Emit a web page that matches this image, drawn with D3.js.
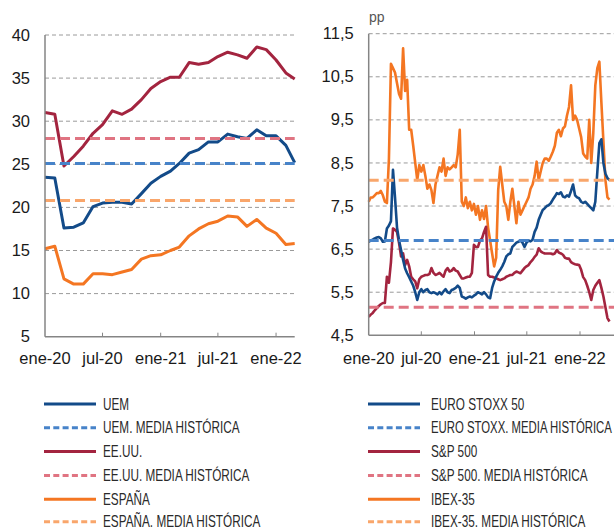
<!DOCTYPE html>
<html><head><meta charset="utf-8">
<script src="https://cdn.jsdelivr.net/npm/d3@7"></script>
<style>
html,body{margin:0;padding:0;background:#fff;}
svg{display:block;}
</style></head>
<body>
<script>
// ---------- DATA ----------
const monthNames = ["ene","feb","mar","abr","may","jun","jul","ago","sep","oct","nov","dic"];
const xTickDates = ["2020-01-01","2020-07-01","2021-01-01","2021-07-01","2022-01-01"];
const leftYTicks = [5,10,15,20,25,30,35,40];
const rightYTicks = [4.5,5.5,6.5,7.5,8.5,9.5,10.5,11.5];

// Left chart: monthly, ene-20 .. mar-22
const leftStart = "2020-01-01";
const uem    = [23.5,23.4,17.6,17.7,18.2,20.1,20.5,20.6,20.6,20.4,21.6,22.8,23.6,24.2,25.1,26.3,26.7,27.6,27.6,28.5,28.2,28.0,29.0,28.3,28.3,27.2,25.2];
const eeuu   = [31.0,30.8,24.8,25.9,27.1,28.6,29.6,31.2,30.8,31.4,32.5,33.8,34.6,35.1,35.1,36.8,36.6,36.8,37.5,38.0,37.7,37.3,38.6,38.3,37.1,35.6,34.9];
const espana = [15.2,15.5,11.7,11.1,11.1,12.3,12.3,12.2,12.5,12.8,14.0,14.4,14.5,15.0,15.4,16.7,17.5,18.1,18.4,19.0,18.9,17.8,18.6,17.6,17.0,15.7,15.8];
const uemMedia = 25.1, eeuuMedia = 28.0, espanaMedia = 20.8;

// Right chart: weekly, from 2020-01-01
const rightStart = "2020-01-01";
const ibex = [7.6,7.7,7.7,7.75,7.8,7.8,7.85,7.75,7.6,7.57,8.6,10.8,10.7,10.6,10.35,10.1,9.99,11.16,10.17,10.43,
  9.27,9.27,8.9,8.5,8.1,8.45,8.3,8.45,8.2,7.9,8.0,7.87,7.57,8.0,8.2,8.4,8.3,8.6,8.2,8.4,
  8.35,8.4,8.45,8.4,8.7,9.27,7.6,7.5,7.7,7.45,7.6,7.4,7.55,7.3,7.5,7.18,7.4,7.2,7.5,7.0,
  6.7,6.4,6.1,6.3,7.87,8.41,8.0,7.6,7.5,7.18,7.6,7.9,7.5,7.1,7.6,7.3,7.4,7.5,7.6,7.7,
  7.9,8.0,8.2,8.53,8.1,8.3,8.5,8.6,8.6,8.55,8.65,8.76,8.9,9.2,9.27,9.12,9.3,9.35,9.6,9.8,
  10.3,9.5,9.6,9.5,9.3,9.1,8.72,8.65,8.6,9.5,8.5,9.2,10.3,10.7,10.85,9.9,9.0,8.1,7.7,7.65];
const euroStoxx = [6.67,6.7,6.72,6.75,6.77,6.78,6.75,6.67,6.68,6.98,7.05,7.15,8.34,7.7,7.0,6.7,6.48,6.25,6.05,5.94,
  5.85,5.75,5.65,5.5,5.32,5.5,5.57,5.5,5.55,5.57,5.5,5.48,5.5,5.48,5.45,5.5,5.45,5.52,5.57,5.5,
  5.48,5.55,5.57,5.6,5.65,5.6,5.4,5.38,5.35,5.38,5.4,5.38,5.42,5.45,5.5,5.48,5.45,5.5,5.45,5.38,
  5.36,5.6,5.75,5.86,5.95,6.02,6.1,6.2,6.33,6.38,6.4,6.55,6.6,6.65,6.67,6.7,6.65,6.55,6.65,6.7,
  6.68,6.72,6.9,7.0,7.18,7.3,7.41,7.45,7.5,7.52,7.57,7.65,7.72,7.8,7.78,7.82,7.72,7.7,7.75,7.72,
  7.85,8.0,7.75,7.7,7.68,7.6,7.57,7.6,7.55,7.5,7.45,7.4,7.6,8.3,8.96,9.05,8.5,8.25,8.15,8.1];
const sp500 = [4.93,4.98,5.02,5.08,5.13,5.18,5.22,5.25,5.25,5.86,5.72,6.2,6.98,6.95,6.9,6.64,6.33,6.4,6.13,6.25,
  6.1,5.86,5.8,5.75,5.59,5.8,5.86,5.88,5.9,5.9,5.92,6.06,5.95,5.9,5.92,5.95,5.9,5.86,6.0,6.06,
  5.98,6.0,6.06,6.0,5.98,5.9,5.82,5.82,5.84,5.86,5.86,5.95,6.6,6.55,6.55,6.7,6.75,6.9,7.02,5.9,
  5.86,5.86,5.84,5.82,5.8,5.78,5.8,5.82,5.86,5.88,5.9,5.9,5.95,5.98,5.96,5.94,6.0,6.06,6.1,6.13,
  6.2,6.25,6.32,6.37,6.52,6.45,6.42,6.4,6.4,6.4,6.4,6.38,6.4,6.48,6.42,6.4,6.37,6.3,6.28,6.28,
  6.2,6.17,6.15,6.14,6.13,6.02,5.85,5.78,5.65,5.5,5.32,5.55,5.65,5.72,5.78,5.6,5.4,5.15,4.9,4.82];
const euroStoxxMedia = 6.7, sp500Media = 5.15, ibexMedia = 8.1;

const legendLeft  = ["UEM","UEM. MEDIA HISTÓRICA","EE.UU.","EE.UU. MEDIA HISTÓRICA","ESPAÑA","ESPAÑA. MEDIA HISTÓRICA"];
const legendRight = ["EURO STOXX 50","EURO STOXX. MEDIA HISTÓRICA","S&P 500","S&P 500. MEDIA HISTÓRICA","IBEX-35","IBEX-35. MEDIA HISTÓRICA"];

// ---------- STYLE ----------
const C = {
  blue:"#134b89", blueAvg:"#4783c9",
  red:"#a3243f", redAvg:"#e07482",
  orange:"#f47622", orangeAvg:"#f9a66b",
  grid:"#9a9a9a", axis:"#858585", text:"#1a1a1a"
};
const FONT = "'Liberation Sans', Arial, Helvetica, sans-serif";

const W = 614, H = 530;
const svg = d3.select("body").append("svg").attr("width", W).attr("height", H)
  .style("font-family", FONT);

const parse = d3.timeParse("%Y-%m-%d");
const fmtComma = d3.formatLocale({decimal:",", thousands:".", grouping:[3], currency:["","€"]}).format(".1f");
const xLabel = d => monthNames[d.getMonth()] + "-" + String(d.getFullYear()).slice(2);

function drawPanel(cfg) {
  const g = svg.append("g");
  const x = d3.scaleTime().domain(cfg.xDomain).range(cfg.xRange);
  const y = d3.scaleLinear().domain(cfg.yDomain).range(cfg.yRange);
  const [x0, x1] = [cfg.xRange[0], cfg.plotRight];

  // gridlines
  g.append("g").selectAll("line").data(cfg.yTicks.filter(v => v !== cfg.yDomain[0])).join("line")
    .attr("x1", x0).attr("x2", x1).attr("y1", d => y(d)).attr("y2", d => y(d))
    .attr("stroke", C.grid).attr("stroke-width", 1).attr("stroke-dasharray", "4,3");

  // y axis labels
  g.append("g").selectAll("text").data(cfg.yTicks).join("text")
    .attr("x", x0 - 15).attr("y", d => y(d) + 5.6).attr("text-anchor", "end")
    .attr("font-size", 16.5).attr("fill", C.text).text(cfg.yFmt);

  // x axis
  const xt = xTickDates.map(parse);
  g.append("g").selectAll("line").data(xt.slice(1)).join("line")
    .attr("x1", d => x(d)).attr("x2", d => x(d)).attr("y1", y(cfg.yDomain[0])).attr("y2", y(cfg.yDomain[0]) - 4)
    .attr("stroke", C.axis).attr("stroke-width", 1);
  g.append("g").selectAll("text").data(xt).join("text")
    .attr("x", d => x(d)).attr("y", cfg.xLabelY).attr("text-anchor", "middle")
    .attr("font-size", 16.5).attr("fill", C.text).text(xLabel);

  // series
  const line = d3.line().x(d => x(d.date)).y(d => y(d.v));
  cfg.series.forEach(s => {
    const data = s.values.map((v, i) => ({date: cfg.dateOf(i), v}));
    g.append("path").datum(data).attr("d", line).attr("fill", "none")
      .attr("stroke", s.color).attr("stroke-width", cfg.lw).attr("stroke-linejoin", "round");
  });
  cfg.medias.forEach(m => {
    g.append("line").attr("x1", x0).attr("x2", x1).attr("y1", y(m.v)).attr("y2", y(m.v))
      .attr("stroke", m.color).attr("stroke-width", 3).attr("stroke-dasharray", "10,5");
  });

  // axis lines
  g.append("line").attr("x1", x0).attr("x2", x0).attr("y1", y(cfg.yDomain[1])).attr("y2", y(cfg.yDomain[0]))
    .attr("stroke", C.axis).attr("stroke-width", 1.5);
  g.append("line").attr("x1", x0).attr("x2", x1).attr("y1", y(cfg.yDomain[0])).attr("y2", y(cfg.yDomain[0]))
    .attr("stroke", C.axis).attr("stroke-width", 1.5);
  return g;
}

// Left panel
const ls = parse(leftStart);
drawPanel({
  xDomain: [ls, parse("2022-03-01")], xRange: [45, 294.7], plotRight: 294.7,
  yDomain: [5, 40], yRange: [336.7, 35], yTicks: leftYTicks, yFmt: d => d,
  xLabelY: 364, lw: 3,
  dateOf: i => d3.timeMonth.offset(ls, i),
  series: [
    {values: espana, color: C.orange},
    {values: eeuu, color: C.red},
    {values: uem, color: C.blue}
  ],
  medias: [
    {v: espanaMedia, color: C.orangeAvg},
    {v: eeuuMedia, color: C.redAvg},
    {v: uemMedia, color: C.blueAvg}
  ]
});

// Right panel
const rs = parse(rightStart);
const rp = drawPanel({
  xDomain: [rs, parse("2022-01-01")], xRange: [368.7, 580], plotRight: 614,
  yDomain: [4.5, 11.5], yRange: [335.3, 33.7], yTicks: rightYTicks, yFmt: d => fmtComma(d),
  xLabelY: 364, lw: 2.6,
  dateOf: i => d3.timeDay.offset(rs, 7 * i),
  series: [
    {values: ibex, color: C.orange},
    {values: sp500, color: C.red},
    {values: euroStoxx, color: C.blue}
  ],
  medias: [
    {v: ibexMedia, color: C.orangeAvg},
    {v: euroStoxxMedia, color: C.blueAvg},
    {v: sp500Media, color: C.redAvg}
  ]
});
rp.append("text").attr("x", 369).attr("y", 22).attr("font-size", 14).attr("fill", "#555").text("pp");

// Legend
const legStyles = [
  {c: C.blue, dash: null}, {c: C.blueAvg, dash: "6,3.3"},
  {c: C.red, dash: null}, {c: C.redAvg, dash: "6,3.3"},
  {c: C.orange, dash: null}, {c: C.orangeAvg, dash: "6,3.3"}
];
const rowY = [404, 427.8, 451.6, 475.4, 499.2, 521.8];
function drawLegend(labels, lx, tx) {
  const g = svg.append("g");
  labels.forEach((lab, i) => {
    const st = legStyles[i];
    g.append("line").attr("x1", lx).attr("x2", lx + 52).attr("y1", rowY[i]).attr("y2", rowY[i])
      .attr("stroke", st.c).attr("stroke-width", 3).attr("stroke-dasharray", st.dash);
    const t = g.append("text").attr("font-size", 15.8).attr("fill", "#2a2a2a").text(lab);
    const w = t.node().getComputedTextLength();
    const s = Math.min(0.745, (W - 2 - tx) / w);
    t.attr("transform", `translate(${tx},${rowY[i] + 5.6}) scale(${s},1)`);
  });
}
drawLegend(legendLeft, 44, 103);
drawLegend(legendRight, 368, 431);
</script>
</body></html>
